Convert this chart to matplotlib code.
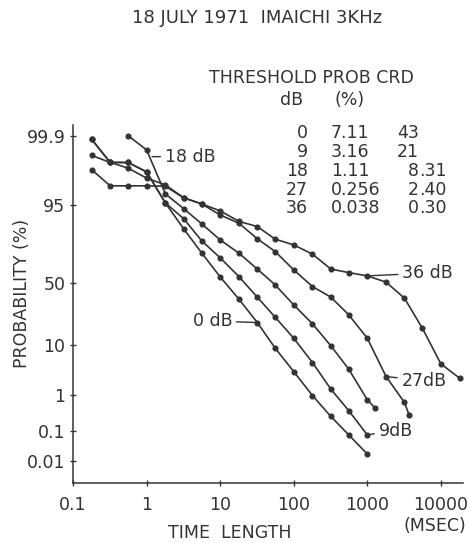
import numpy as np
import matplotlib
matplotlib.use('Agg')
import matplotlib.pyplot as plt
from matplotlib.ticker import FixedLocator, NullLocator
from statistics import NormalDist

plt.rcParams['font.family'] = ['DejaVu Sans']

# dados (tempo em ms, probabilidade em %)
tempo_base = [0.18, 0.32, 0.56, 1, 1.8, 3.2, 5.6, 10, 18, 32, 56, 100, 180, 320, 560, 1000]
tempo_0db = tempo_base
tempo_9db = tempo_base
tempo_18db = [0.56, 1, 1.8, 3.2, 5.6, 10, 18, 32, 56, 100, 180, 320, 560, 1000, 1280]
tempo_27db = tempo_base + [1800, 3200, 3700]
tempo_36db = tempo_base + [1800, 3200, 5600, 10000, 18000]

prob_0db = [99.87, 99.43, 99.43, 99.02, 95.4, 87.3, 73.9, 55.5, 37.1, 20.7, 8.8, 3.27, 0.95, 0.27, 0.077, 0.018]
prob_9db = [99.87, 99.43, 99.43, 99.02, 95.4, 91.2, 81.4, 70.4, 55.7, 38.7, 24.0, 12.6, 4.9, 1.35, 0.39, 0.077]
prob_18db = [99.9, 99.74, 96.95, 94.1, 89.4, 81.9, 73.7, 61.8, 48.8, 32.7, 19.9, 9.6, 3.65, 0.75, 0.455]
prob_27db = [99.63, 99.43, 99.21, 98.62, 98.04, 96.33, 95.2, 92.4, 89.6, 82.5, 74.8, 61.2, 47.4, 38.7,
             25.6, 12.6, 2.58, 0.64, 0.30]
prob_36db = [99.13, 97.94, 97.94, 97.94, 97.9, 96.33, 95.2, 93.55, 90.3, 88.3, 82.3, 79.0, 73.0, 61.8,
             59.0, 56.3, 51.1, 37.9, 17.5, 4.63, 2.38]

# tabela
tab_db = ['0', '9', '18', '27', '36']
tab_prob = ['7.11', '3.16', '1.11', '0.256', '0.038']
tab_crd = ['43', '21', '8.31', '2.40', '0.30']

yticks = [0.01, 0.1, 1, 10, 50, 95, 99.9]
yticklabels = ['0.01', '0.1', '1', '10', '50', '95', '99.9']
xticks = [0.1, 1, 10, 100, 1000, 10000]
xticklabels = ['0.1', '1', '10', '100', '1000', '10000']

# escala de probabilidade normal
nd = NormalDist()
_ppf = np.vectorize(nd.inv_cdf, otypes=[float])
_cdf = np.vectorize(nd.cdf, otypes=[float])

def prob_para_z(p):
    p = np.clip(np.asarray(p, dtype=float) / 100.0, 1e-12, 1 - 1e-12)
    return _ppf(p)

def z_para_prob(z):
    return _cdf(np.asarray(z, dtype=float)) * 100.0

W, H = 468, 543
cor = '#333333'
fs = 12.5
fig = plt.figure(figsize=(W / 100, H / 100), dpi=100)
ax = fig.add_axes([73 / W, 60 / H, 390 / W, 358 / H])

ax.set_xscale('log')
ax.set_yscale('function', functions=(prob_para_z, z_para_prob))

curvas = [(tempo_0db, prob_0db), (tempo_9db, prob_9db), (tempo_18db, prob_18db),
          (tempo_27db, prob_27db), (tempo_36db, prob_36db)]
for t, p in curvas:
    ax.plot(t, p, '-o', color=cor, lw=1.2, ms=3.4, mfc=cor, mec=cor)

ax.set_xlim(0.1, 20000)
ax.set_ylim(0.0015, 99.954)

ax.xaxis.set_major_locator(FixedLocator(xticks))
ax.set_xticklabels(xticklabels)
ax.xaxis.set_minor_locator(NullLocator())
ax.yaxis.set_major_locator(FixedLocator(yticks))
ax.set_yticklabels(yticklabels)
ax.yaxis.set_minor_locator(NullLocator())

for s in ['top', 'right']:
    ax.spines[s].set_visible(False)
for s in ['left', 'bottom']:
    ax.spines[s].set_color(cor)
    ax.spines[s].set_linewidth(1.1)
ax.tick_params(direction='inout', length=5, width=1, color=cor, labelcolor=cor, labelsize=fs)
ax.tick_params(axis='x', pad=7)
ax.tick_params(axis='y', pad=3)

# rótulos das curvas
kw = dict(textcoords='offset points', fontsize=fs, color=cor, va='center',
          arrowprops=dict(arrowstyle='-', color=cor, lw=1, shrinkA=1, shrinkB=2))
ax.annotate('18 dB', xy=(1.09, 99.6), xytext=(11, 0), ha='left', **kw)
ax.annotate('36 dB', xy=(1000, 56.3), xytext=(25, 2), ha='left', **kw)
ax.annotate('27dB', xy=(1800, 2.58), xytext=(11, -3), ha='left', **kw)
ax.annotate('9dB', xy=(1000, 0.077), xytext=(8, 3), ha='left', **kw)
ax.annotate('0 dB', xy=(32, 20.7), xytext=(-18, 1), ha='right', **kw)

# textos da figura
def ftext(x, y, s, size=fs, **k):
    fig.text(x / W, 1 - y / H, s, color=cor, va='center', fontsize=size, **k)

ftext(257, 18, '18 JULY 1971  IMAICHI 3KHz', ha='center', size=13)
ftext(209, 78, 'THRESHOLD PROB CRD', ha='left')
ftext(292, 100, 'dB', ha='center')
ftext(350, 100, '(%)', ha='center')
for i, y in enumerate([133, 152, 171, 190, 208]):
    ftext(308, y, tab_db[i], ha='right')
    ftext(331, y, tab_prob[i], ha='left')
    inteiro = tab_crd[i].split('.')[0]
    ftext(419, y, inteiro, ha='right')
    if '.' in tab_crd[i]:
        ftext(419, y, '.' + tab_crd[i].split('.')[1], ha='left')

ftext(22, 293, 'PROBABILITY (%)', ha='center', rotation=90)
ftext(230, 533, 'TIME  LENGTH', ha='center')
ftext(435, 526, '(MSEC)', ha='center')

fig.savefig('out.png', dpi=100)
